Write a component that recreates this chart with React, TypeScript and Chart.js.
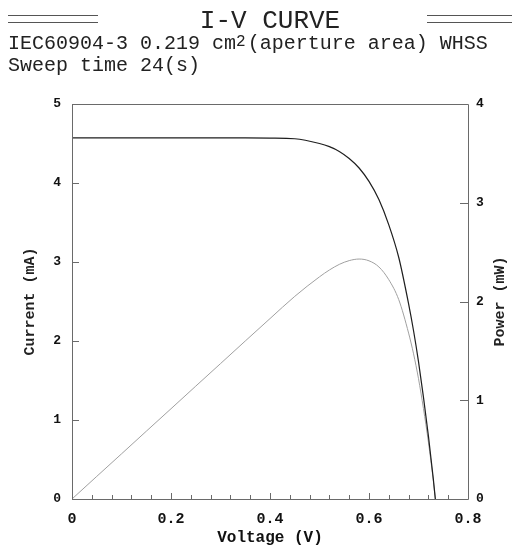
import React, { useEffect, useRef } from "react";
import { Chart, registerables } from "chart.js";

Chart.register(...registerables);

const voltage = [0, 0.05, 0.1, 0.15, 0.2, 0.25, 0.3, 0.35, 0.4, 0.45, 0.5, 0.52, 0.54, 0.56, 0.58, 0.6, 0.62, 0.64, 0.66, 0.68, 0.69, 0.7, 0.71, 0.72, 0.73, 0.734];
const currentMA = [4.57, 4.57, 4.57, 4.57, 4.57, 4.57, 4.57, 4.57, 4.568, 4.56, 4.5, 4.46, 4.4, 4.31, 4.19, 4.02, 3.79, 3.47, 3.06, 2.47, 2.13, 1.74, 1.29, 0.8, 0.25, 0];
const powerMW = [0, 0.229, 0.457, 0.686, 0.914, 1.143, 1.371, 1.6, 1.827, 2.052, 2.25, 2.319, 2.376, 2.414, 2.43, 2.412, 2.35, 2.221, 2.02, 1.68, 1.47, 1.218, 0.916, 0.576, 0.183, 0];

const voltageTicks = [0, 0.2, 0.4, 0.6, 0.8];
const voltageMinorTicks = [0, 0.04, 0.08, 0.12, 0.16, 0.2, 0.24, 0.28, 0.32, 0.36, 0.4, 0.44, 0.48, 0.52, 0.56, 0.6, 0.64, 0.68, 0.72, 0.76, 0.8];
const currentTicks = [0, 1, 2, 3, 4, 5];
const powerTicks = [0, 1, 2, 3, 4];

const titleText = "I-V CURVE";
const xTitle = "Voltage (V)";
const yTitle = "Current (mA)";
const y2Title = "Power (mW)";

const MONO = "'Liberation Mono', 'DejaVu Sans Mono', monospace";
const AXIS_COLOR = "#6a6a6a";

const framePlugin = {
  id: "frame",
  afterDatasetsDraw(chart: any) {
    const { ctx, chartArea, scales } = chart;
    const { left, right, top, bottom } = chartArea;
    ctx.save();
    ctx.strokeStyle = AXIS_COLOR;
    ctx.lineWidth = 1;
    ctx.beginPath();
    ctx.rect(Math.round(left) + 0.5, Math.round(top) + 0.5, Math.round(right - left), Math.round(bottom - top));
    ctx.stroke();
    ctx.beginPath();
    voltageMinorTicks.forEach((v) => {
      const px = Math.round(scales.x.getPixelForValue(v)) + 0.5;
      const major = voltageTicks.some((t) => Math.abs(t - v) < 1e-9);
      ctx.moveTo(px, bottom);
      ctx.lineTo(px, bottom - (major ? 6 : 4));
    });
    currentTicks.forEach((v) => {
      const py = Math.round(scales.y.getPixelForValue(v)) + 0.5;
      ctx.moveTo(left, py);
      ctx.lineTo(left + 7, py);
    });
    powerTicks.forEach((v) => {
      const py = Math.round(scales.y2.getPixelForValue(v)) + 0.5;
      ctx.moveTo(right, py);
      ctx.lineTo(right - 8, py);
    });
    ctx.stroke();
    // right axis title, reading bottom-to-top
    ctx.fillStyle = "#222";
    ctx.font = `bold 15px ${MONO}`;
    ctx.textAlign = "center";
    ctx.textBaseline = "middle";
    ctx.translate(500, (top + bottom) / 2);
    ctx.rotate(-Math.PI / 2);
    ctx.fillText(y2Title, 0, 0);
    ctx.restore();
  },
};

function IVChart() {
  const ref = useRef<HTMLCanvasElement | null>(null);
  useEffect(() => {
    if (!ref.current) return;
    const chart = new Chart(ref.current, {
      type: "line",
      data: {
        datasets: [
          {
            label: "Current",
            data: voltage.map((v, i) => ({ x: v, y: currentMA[i] })),
            borderColor: "#1e1e1e",
            borderWidth: 1.2,
            pointRadius: 0,
            cubicInterpolationMode: "monotone",
            yAxisID: "y",
          },
          {
            label: "Power",
            data: voltage.map((v, i) => ({ x: v, y: powerMW[i] })),
            borderColor: "#a0a0a0",
            borderWidth: 1,
            pointRadius: 0,
            cubicInterpolationMode: "monotone",
            yAxisID: "y2",
          },
        ],
      },
      options: {
        animation: false,
        responsive: false,
        maintainAspectRatio: false,
        layout: { padding: { top: 104, left: 0, right: 0, bottom: 0 } },
        plugins: { legend: { display: false }, tooltip: { enabled: false } },
        scales: {
          x: {
            type: "linear",
            min: 0,
            max: 0.8,
            grid: { display: false, drawTicks: false },
            border: { display: false },
            afterFit: (s: any) => { s.height = 49; },
            afterBuildTicks: (s: any) => { s.ticks = voltageTicks.map((v) => ({ value: v })); },
            ticks: {
              padding: 11,
              color: "#111",
              font: { family: MONO, size: 15, weight: "bold" },
              callback: (v: any) => (v === 0 ? "0" : Number(v).toFixed(1)),
              maxRotation: 0,
            },
            title: {
              display: true,
              text: xTitle,
              color: "#111",
              font: { family: MONO, size: 16, weight: "bold" },
              padding: { top: 0, bottom: 0 },
            },
          },
          y: {
            type: "linear",
            position: "left",
            min: 0,
            max: 5,
            grid: { display: false, drawTicks: false },
            border: { display: false },
            afterFit: (s: any) => { s.width = 72; },
            afterBuildTicks: (s: any) => { s.ticks = currentTicks.map((v) => ({ value: v })); },
            ticks: {
              padding: 11,
              color: "#111",
              font: { family: MONO, size: 13, weight: "bold" },
            },
            title: {
              display: true,
              text: yTitle,
              color: "#222",
              font: { family: MONO, size: 15, weight: "bold" },
              padding: { top: 21, bottom: 0 },
            },
          },
          y2: {
            type: "linear",
            position: "right",
            min: 0,
            max: 4,
            grid: { display: false, drawTicks: false },
            border: { display: false },
            afterFit: (s: any) => { s.width = 44; },
            afterBuildTicks: (s: any) => { s.ticks = powerTicks.map((v) => ({ value: v })); },
            ticks: {
              padding: 8,
              color: "#111",
              font: { family: MONO, size: 13, weight: "bold" },
            },
          },
        },
      } as any,
      plugins: [framePlugin],
    });
    return () => chart.destroy();
  }, []);
  return <canvas ref={ref} width={512} height={548} style={{ position: "absolute", left: 0, top: 0, width: 512, height: 548 }} />;
}

export default function App() {
  const line = (left: number, top: number, width: number) => (
    <div style={{ position: "absolute", left, top, width, height: 0, borderTop: "1px solid #555" }} />
  );
  return (
    <div style={{ position: "absolute", left: 0, top: 0, width: 512, height: 548, background: "#fff", overflow: "hidden" }}>
      <IVChart />
      <div style={{ position: "absolute", left: 0, top: 0, width: 512, height: 90, fontFamily: MONO, color: "#222" }}>
        {line(8, 15, 90)}
        {line(8, 22, 90)}
        {line(427, 15, 85)}
        {line(427, 22, 85)}
        <div style={{ position: "absolute", left: 0, width: 540, top: 6, textAlign: "center", fontSize: 26, lineHeight: "30px" }}>{titleText}</div>
        <div style={{ position: "absolute", left: 8, top: 33, fontSize: 20, lineHeight: "22px", whiteSpace: "pre" }}>
          IEC60904-3 0.219 cm<span style={{ fontSize: 16, position: "relative", top: -3, marginRight: 2 }}>2</span>(aperture area) WHSS
        </div>
        <div style={{ position: "absolute", left: 8, top: 55, fontSize: 20, lineHeight: "22px", whiteSpace: "pre" }}>Sweep time 24(s)</div>
      </div>
    </div>
  );
}
